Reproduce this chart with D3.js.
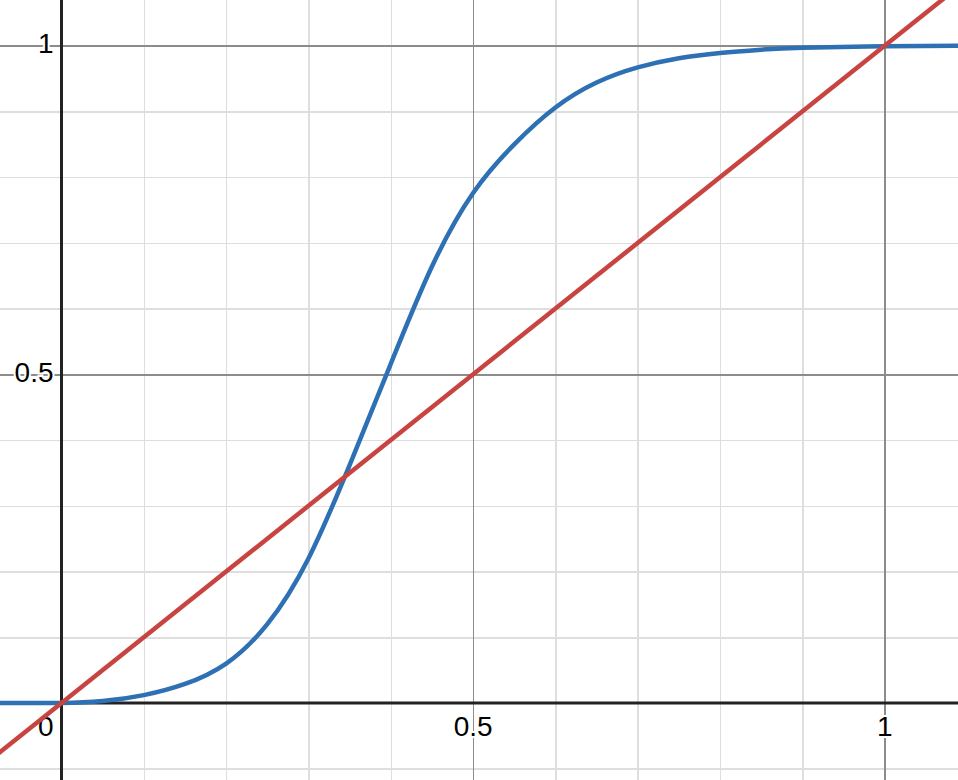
<!DOCTYPE html>
<html>
<head>
<meta charset="utf-8">
<script src="https://cdn.jsdelivr.net/npm/d3@7"></script>
<style>
  body { margin: 0; background: #fff; }
  svg { display: block; }
  .grid line { shape-rendering: crispEdges; }
  .lbl {
    font-family: "Liberation Sans", Arial, sans-serif;
    font-size: 28px;
    fill: #000;
    stroke: #fff;
    stroke-width: 4px;
    paint-order: stroke;
  }
</style>
</head>
<body>
<div id="chart"></div>
<script>
const width = 958;
const height = 780;

// blue curve
const curveX = [-0.08, -0.04, 0, 0.05, 0.1, 0.15, 0.2, 0.25, 0.3, 0.35, 0.4, 0.45,
  0.5, 0.55, 0.6, 0.65, 0.7, 0.75, 0.8, 0.85, 0.9, 1.0, 1.1];
const curveY = [0, 0, 0, 0.003, 0.012, 0.029, 0.060, 0.120, 0.220, 0.362, 0.516, 0.664,
  0.776, 0.850, 0.906, 0.944, 0.967, 0.981, 0.989, 0.994, 0.997, 0.999, 1.0];

// red line y = x, end points
const lineX = [-0.2, 1.2];
const lineY = [-0.2, 1.2];

const minorTicks = d3.range(-2, 12).map((i) => i / 10);
const majorTicks = [0.5, 1];
const xLabels = [0.5, 1];
const yLabels = [0.5, 1];

const x = d3.scaleLinear().domain([0, 1]).range([61.5, 884.7]);
const y = d3.scaleLinear().domain([0, 1]).range([703, 45.7]);

const svg = d3
  .select("#chart")
  .append("svg")
  .attr("width", width)
  .attr("height", height);

function gridX(ticks, cls) {
  return svg
    .append("g")
    .attr("class", "grid " + cls)
    .attr("transform", `translate(0,${height})`)
    .call(d3.axisBottom(x).tickValues(ticks).tickSize(-height).tickFormat(""))
    .call((g) => g.select(".domain").remove());
}
function gridY(ticks, cls) {
  return svg
    .append("g")
    .attr("class", "grid " + cls)
    .call(d3.axisLeft(y).tickValues(ticks).tickSize(-width).tickFormat(""))
    .call((g) => g.select(".domain").remove());
}

const minorOnly = minorTicks.filter((t) => Math.abs(t * 2 - Math.round(t * 2)) > 1e-6);
gridX(minorOnly, "minor");
gridY(minorOnly, "minor");
svg.selectAll(".minor line").attr("stroke", "#dedede").attr("stroke-width", 1.5);

gridX(majorTicks, "major");
gridY(majorTicks, "major");
svg.selectAll(".major line").attr("stroke", "#8c8c8c").attr("stroke-width", 1.5);

// axes
svg.append("line")
  .attr("x1", 0).attr("x2", width)
  .attr("y1", y(0)).attr("y2", y(0))
  .attr("stroke", "#222").attr("stroke-width", 3);
svg.append("line")
  .attr("x1", x(0)).attr("x2", x(0))
  .attr("y1", 0).attr("y2", height)
  .attr("stroke", "#222").attr("stroke-width", 3);

// labels
svg.selectAll(".xl")
  .data(xLabels)
  .enter()
  .append("text")
  .attr("class", "lbl")
  .attr("x", (d) => x(d))
  .attr("y", y(0) + 33)
  .attr("text-anchor", "middle")
  .text((d) => d);

svg.selectAll(".yl")
  .data(yLabels)
  .enter()
  .append("text")
  .attr("class", "lbl")
  .attr("x", x(0) - 8)
  .attr("y", (d) => y(d) + 7.5)
  .attr("text-anchor", "end")
  .text((d) => d);

svg.append("text")
  .attr("class", "lbl")
  .attr("x", x(0) - 8)
  .attr("y", y(0) + 33)
  .attr("text-anchor", "end")
  .text("0");

// curves
const blue = curveX.map((v, i) => [v, curveY[i]]);
const red = lineX.map((v, i) => [v, lineY[i]]);

const line = d3.line()
  .x((d) => x(d[0]))
  .y((d) => y(d[1]));

svg.append("path")
  .attr("d", line.curve(d3.curveNatural)(blue))
  .attr("fill", "none")
  .attr("stroke", "#2d70b3")
  .attr("stroke-width", 4.5)
  .attr("stroke-linejoin", "round");

svg.append("path")
  .attr("d", line.curve(d3.curveLinear)(red))
  .attr("fill", "none")
  .attr("stroke", "#c74440")
  .attr("stroke-width", 4.5);
</script>
</body>
</html>
